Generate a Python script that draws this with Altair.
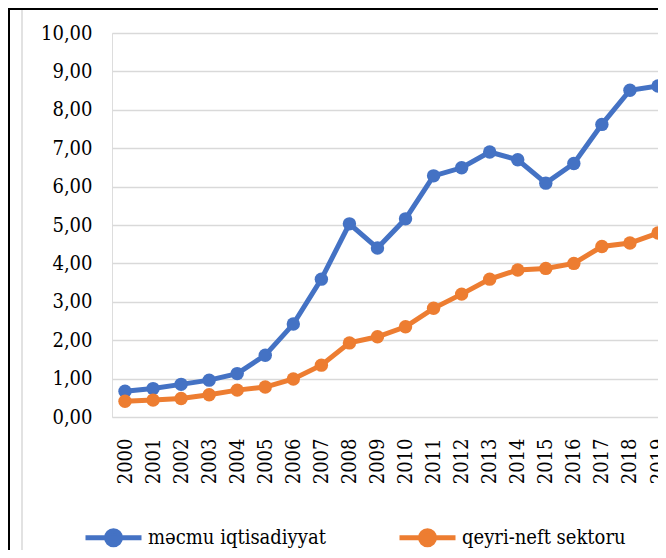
import altair as alt
import pandas as pd

years = list(range(2000, 2020))
macmu = [0.67, 0.74, 0.85, 0.96, 1.13, 1.61, 2.42, 3.59, 5.03, 4.40,
         5.16, 6.28, 6.49, 6.90, 6.70, 6.09, 6.60, 7.62, 8.51, 8.62]
qeyri = [0.41, 0.44, 0.48, 0.58, 0.70, 0.78, 0.99, 1.35, 1.93, 2.09,
         2.35, 2.83, 3.20, 3.59, 3.83, 3.87, 4.00, 4.44, 4.53, 4.79]
series_names = ["məcmu iqtisadiyyat", "qeyri-neft sektoru"]
colors = ["#4472C4", "#ED7D31"]
y_ticks = [0, 1, 2, 3, 4, 5, 6, 7, 8, 9, 10]

rows = []
for name, vals in zip(series_names, [macmu, qeyri]):
    for yr, v in zip(years, vals):
        rows.append({"il": yr, "deger": v, "seriya": name})
df = pd.DataFrame(rows)

FONT = "DejaVu Serif Condensed, DejaVu Serif"
W, H = 546, 384

xenc = alt.X("il:Q",
             scale=alt.Scale(domain=[1999.5365, 2019], nice=False, zero=False),
             axis=alt.Axis(values=years, format="d", labelAngle=-90, title=None,
                           grid=False, ticks=False, domain=False,
                           labelFont=FONT, labelFontSize=20, labelColor="#000000",
                           labelPadding=21, labelFlush=False, labelOverlap=False))
yenc = alt.Y("deger:Q",
             scale=alt.Scale(domain=[0, 10], nice=False),
             axis=alt.Axis(values=y_ticks, title=None, ticks=False, domain=False,
                           labelExpr="replace(format(datum.value, '.2f'), '.', ',')",
                           labelFont=FONT, labelFontSize=20, labelColor="#000000",
                           labelPadding=20, gridColor="#D9D9D9", gridWidth=1.6))

sym_path = "M-1,0L1,0M-0.25,0A0.25,0.25,0,1,1,0.25,0A0.25,0.25,0,1,1,-0.25,0Z"
leg = alt.Legend(orient="none", legendX=-29, legendY=474, direction="horizontal",
                 title=None, symbolType=sym_path, symbolSize=3136,
                 symbolStrokeWidth=5, labelFont=FONT, labelFontSize=20,
                 labelColor="#000000", columnPadding=63, labelOffset=4,
                 labelLimit=400)

cscale = alt.Scale(domain=series_names, range=colors)

lines = alt.Chart(df).mark_line(strokeWidth=5).encode(
    x=xenc, y=yenc,
    stroke=alt.Stroke("seriya:N", scale=cscale, legend=leg),
)
points = alt.Chart(df).mark_point(filled=True, size=180, opacity=1, strokeWidth=0).encode(
    x=xenc, y=yenc,
    stroke=alt.Stroke("seriya:N", scale=cscale, legend=leg),
    fill=alt.Fill("seriya:N", scale=cscale, legend=leg),
)

one = pd.DataFrame({"k": [0]})
frame_left = alt.Chart(one).mark_rule(color="#000000", strokeWidth=2).encode(
    x=alt.value(-103), y=alt.value(-24), y2=alt.value(525))
frame_top = alt.Chart(one).mark_rule(color="#000000", strokeWidth=2).encode(
    x=alt.value(-104), x2=alt.value(560), y=alt.value(-24))
inner = alt.Chart(one).mark_rule(color="#D9D9D9", strokeWidth=1.5).encode(
    x=alt.value(-90), y=alt.value(-23), y2=alt.value(525))

chart = alt.layer(frame_left, frame_top, inner, lines, points).properties(
    width=W, height=H,
    autosize=alt.AutoSizeParams(type="none"),
    padding={"left": 104, "top": 25, "right": 0, "bottom": 133},
).configure_view(stroke=None).configure(background="#FFFFFF")

chart.save("out.html", embed_options={"renderer": "svg", "actions": False})
